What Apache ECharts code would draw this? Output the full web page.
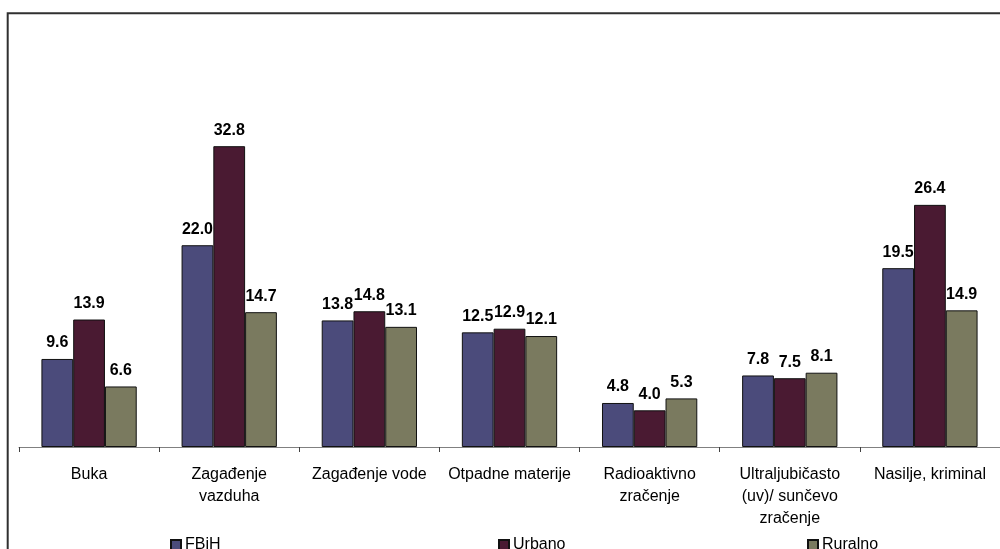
<!DOCTYPE html>
<html>
<head>
<meta charset="utf-8">
<script src="https://cdn.jsdelivr.net/npm/echarts@6/dist/echarts.min.js"></script>
<style>
  html, body { margin: 0; padding: 0; background: #ffffff; }
  #chart { width: 1000px; height: 549px; }
</style>
</head>
<body>
<div id="chart"></div>
<script>
// Environmental problems, share of households (%)
const categories = [
  'Buka',
  'Zagađenje\nvazduha',
  'Zagađenje vode',
  'Otpadne materije',
  'Radioaktivno\nzračenje',
  'Ultraljubičasto\n(uv)/ sunčevo\nzračenje',
  'Nasilje, kriminal'
];
const seriesNames = ['FBiH', 'Urbano', 'Ruralno'];
const fbihValues    = [9.6, 22.0, 13.8, 12.5, 4.8, 7.8, 19.5];
const urbanoValues  = [13.9, 32.8, 14.8, 12.9, 4.0, 7.5, 26.4];
const ruralnoValues = [6.6, 14.7, 13.1, 12.1, 5.3, 8.1, 14.9];

const colors = ['#4b4b7b', '#4a1a32', '#7a7a5f'];
const FONT = '"Liberation Sans", Arial, sans-serif';

function barSeries(name, data, color) {
  return {
    name: name,
    type: 'bar',
    data: data,
    barGap: '0%',
    barCategoryGap: '32%',
    itemStyle: { color: color, borderColor: '#111111', borderWidth: 1 },
    label: {
      show: true,
      position: 'top',
      distance: 8,
      fontFamily: FONT,
      fontSize: 16,
      fontWeight: 'bold',
      color: '#000000',
      formatter: p => p.value.toFixed(1)
    }
  };
}

function legendAt(name, left) {
  return {
    data: [name],
    left: left,
    top: 537,
    padding: 0,
    icon: 'rect',
    itemWidth: 10,
    itemHeight: 10,
    itemGap: 0,
    selectedMode: false,
    textStyle: { fontFamily: FONT, fontSize: 16, color: '#000000', padding: [0, 0, 0, -1] }
  };
}

const chart = echarts.init(document.getElementById('chart'), null, { renderer: 'canvas' });
chart.setOption({
  animation: false,
  backgroundColor: '#ffffff',
  graphic: [{
    type: 'rect',
    shape: { x: 7.7, y: 13.3, width: 1020, height: 600 },
    style: { fill: 'none', stroke: '#303030', lineWidth: 2 },
    silent: true
  }],
  legend: [
    legendAt('FBiH', 170),
    legendAt('Urbano', 498),
    legendAt('Ruralno', 807)
  ],
  grid: { left: 19, right: -1, top: 126, bottom: 102 },
  xAxis: {
    type: 'category',
    data: categories,
    axisLine: { show: true, lineStyle: { color: '#808080', width: 1 } },
    axisTick: { show: true, length: 5, lineStyle: { color: '#404040' } },
    axisLabel: {
      interval: 0,
      margin: 17,
      fontFamily: FONT,
      fontSize: 16,
      lineHeight: 22,
      color: '#000000'
    }
  },
  yAxis: {
    type: 'value',
    min: 0,
    max: 35,
    show: false
  },
  series: [
    barSeries(seriesNames[0], fbihValues, colors[0]),
    barSeries(seriesNames[1], urbanoValues, colors[1]),
    barSeries(seriesNames[2], ruralnoValues, colors[2])
  ]
});
</script>
</body>
</html>
